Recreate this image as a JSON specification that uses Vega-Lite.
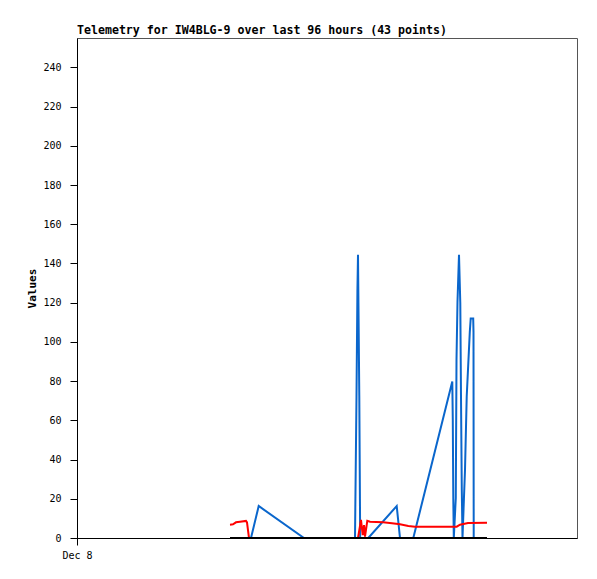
{
  "$schema": "https://vega.github.io/schema/vega-lite/v6.json",
  "width": 500,
  "height": 500,
  "autosize": {"type": "none"},
  "padding": {"left": 77, "top": 38, "right": 20, "bottom": 41},
  "background": "white",
  "title": {
    "text": "Telemetry for IW4BLG-9 over last 96 hours (43 points)",
    "anchor": "start",
    "frame": "group",
    "font": "DejaVu Sans Mono",
    "fontSize": 11.6,
    "fontWeight": "bold",
    "color": "black",
    "offset": 1
  },
  "config": {
    "view": {"stroke": "#555555", "strokeWidth": 1},
    "axis": {
      "labelFont": "DejaVu Sans Mono",
      "labelFontSize": 10,
      "labelColor": "black",
      "titleFont": "DejaVu Sans Mono",
      "titleFontSize": 11,
      "titleColor": "black",
      "grid": false,
      "domainColor": "black",
      "tickColor": "black",
      "tickSize": 7
    }
  },
  "data": {
    "values": [
      {"series": "blue", "t": 36.72, "v": 0},
      {"series": "blue", "t": 41.76, "v": 0},
      {"series": "blue", "t": 43.61, "v": 16.3},
      {"series": "blue", "t": 54.48, "v": 0},
      {"series": "blue", "t": 66.72, "v": 0},
      {"series": "blue", "t": 66.84, "v": 24.5},
      {"series": "blue", "t": 67.08, "v": 72.6},
      {"series": "blue", "t": 67.3, "v": 126},
      {"series": "blue", "t": 67.44, "v": 144.5},
      {"series": "blue", "t": 67.75, "v": 72.6},
      {"series": "blue", "t": 67.96, "v": 0},
      {"series": "blue", "t": 69.91, "v": 0},
      {"series": "blue", "t": 76.73, "v": 16.3},
      {"series": "blue", "t": 77.52, "v": 0},
      {"series": "blue", "t": 80.71, "v": 0},
      {"series": "blue", "t": 90.07, "v": 79.8},
      {"series": "blue", "t": 90.19, "v": 60},
      {"series": "blue", "t": 90.31, "v": 20.4},
      {"series": "blue", "t": 90.43, "v": 0},
      {"series": "blue", "t": 90.91, "v": 20.4},
      {"series": "blue", "t": 91.08, "v": 91},
      {"series": "blue", "t": 91.32, "v": 120.7},
      {"series": "blue", "t": 91.68, "v": 144.5},
      {"series": "blue", "t": 91.99, "v": 120},
      {"series": "blue", "t": 92.16, "v": 72},
      {"series": "blue", "t": 92.35, "v": 24.5},
      {"series": "blue", "t": 92.52, "v": 0},
      {"series": "blue", "t": 92.88, "v": 21},
      {"series": "blue", "t": 93.12, "v": 34.7},
      {"series": "blue", "t": 93.53, "v": 72},
      {"series": "blue", "t": 94.27, "v": 105},
      {"series": "blue", "t": 94.49, "v": 112},
      {"series": "blue", "t": 95.09, "v": 112},
      {"series": "blue", "t": 95.16, "v": 105},
      {"series": "blue", "t": 95.21, "v": 0},
      {"series": "blue", "t": 98.4, "v": 0},
      {"series": "red", "t": 36.72, "v": 6.8},
      {"series": "red", "t": 37.44, "v": 7.0},
      {"series": "red", "t": 38.16, "v": 8.0},
      {"series": "red", "t": 39.12, "v": 8.3},
      {"series": "red", "t": 40.56, "v": 8.7},
      {"series": "red", "t": 40.8, "v": 8.0},
      {"series": "red", "t": 41.28, "v": 0},
      {"series": "red", "t": 67.44, "v": 0},
      {"series": "red", "t": 68.16, "v": 9.2},
      {"series": "red", "t": 68.57, "v": 1.5},
      {"series": "red", "t": 68.88, "v": 6.6},
      {"series": "red", "t": 69.12, "v": 0.7},
      {"series": "red", "t": 69.67, "v": 8.8},
      {"series": "red", "t": 70.32, "v": 8.3},
      {"series": "red", "t": 73.44, "v": 8.0},
      {"series": "red", "t": 75.6, "v": 7.5},
      {"series": "red", "t": 77.52, "v": 7.0},
      {"series": "red", "t": 79.52, "v": 6.1},
      {"series": "red", "t": 81.12, "v": 5.8},
      {"series": "red", "t": 91.13, "v": 5.8},
      {"series": "red", "t": 91.92, "v": 6.8},
      {"series": "red", "t": 93.84, "v": 7.7},
      {"series": "red", "t": 98.4, "v": 7.8},
      {"series": "black", "t": 36.72, "v": 0},
      {"series": "black", "t": 98.4, "v": 0}
    ]
  },
  "encoding": {
    "x": {
      "field": "t",
      "type": "quantitative",
      "scale": {"domain": [0, 120], "nice": false, "zero": false},
      "axis": {"title": null, "values": [0], "labelExpr": "'Dec 8'", "domain": true, "labelPadding": 5, "labelFlush": false}
    },
    "y": {
      "field": "v",
      "type": "quantitative",
      "scale": {"domain": [0, 255], "nice": false},
      "axis": {"title": "Values", "values": [0, 20, 40, 60, 80, 100, 120, 140, 160, 180, 200, 220, 240], "labelPadding": 9, "titlePadding": 5}
    }
  },
  "layer": [
    {
      "transform": [{"filter": "datum.series === 'blue'"}],
      "mark": {"type": "line", "color": "#0a66cc", "strokeWidth": 2, "clip": true}
    },
    {
      "transform": [{"filter": "datum.series === 'red'"}],
      "mark": {"type": "line", "color": "#ff0000", "strokeWidth": 2, "clip": true}
    },
    {
      "transform": [{"filter": "datum.series === 'black'"}],
      "mark": {"type": "line", "color": "#000000", "strokeWidth": 2, "clip": true}
    }
  ]
}
